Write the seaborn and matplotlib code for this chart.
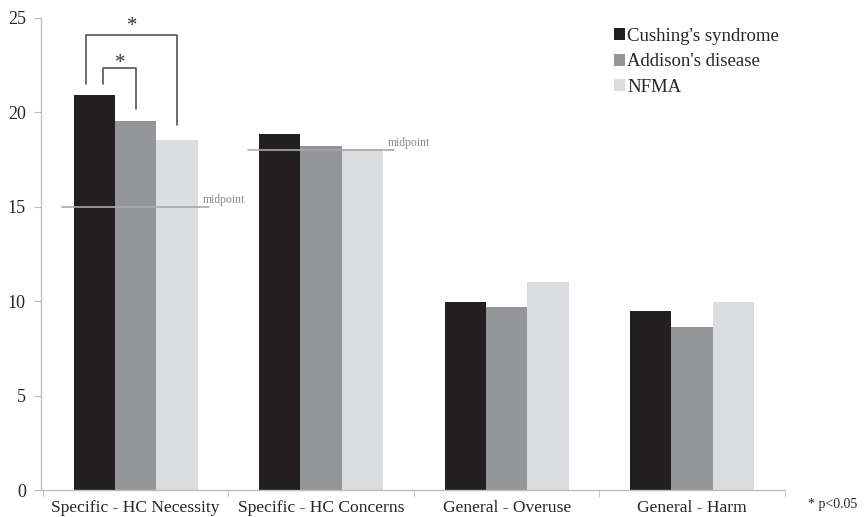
import matplotlib
matplotlib.use("Agg")
import matplotlib.pyplot as plt
import seaborn as sns
import pandas as pd

categories = ["Specific - HC Necessity", "Specific - HC Concerns", "General - Overuse", "General - Harm"]
groups = ["Cushing's syndrome", "Addison's disease", "NFMA"]
cushing = [20.9, 18.86, 9.96, 9.48]
addison = [19.55, 18.22, 9.68, 8.63]
nfma = [18.54, 18.06, 11.02, 9.94]
midpoints = [15, 18]
colors = ["#231f20", "#939598", "#dcdde0"]

rows = []
for g, vals in zip(groups, [cushing, addison, nfma]):
    for c, v in zip(categories, vals):
        rows.append({"cat": c, "group": g, "val": v})
df = pd.DataFrame(rows)

sns.set_style("white")
plt.rcParams["font.family"] = ["Liberation Serif", "DejaVu Serif"]

fig = plt.figure(figsize=(8.64, 5.17), dpi=100)
ax = fig.add_axes([0.0475, 0.0522, 0.861, 0.913])
sns.barplot(data=df, x="cat", y="val", hue="group", palette=colors,
            width=0.67, saturation=1, ax=ax, errorbar=None, linewidth=0)

ax.set_xlim(-0.51, 3.49)
ax.set_ylim(0, 25)
ax.set_yticks([0, 5, 10, 15, 20, 25])
ax.set_xlabel("")
ax.set_ylabel("")
for s in ["top", "right"]:
    ax.spines[s].set_visible(False)
for s in ["left", "bottom"]:
    ax.spines[s].set_color("#bdbdbd")
    ax.spines[s].set_linewidth(1)
ax.tick_params(axis="y", length=5, color="#bdbdbd", labelsize=13, pad=6, left=True)
ax.tick_params(axis="x", which="major", length=0, labelsize=12.6, pad=7.5)
ax.set_xticks([-0.5, 0.5, 1.5, 2.5, 3.5], minor=True)
ax.tick_params(axis="x", which="minor", length=5, color="#bdbdbd", bottom=True)

# midpoint lines
for i, m in enumerate(midpoints):
    ax.plot([i - 0.395, i + 0.395], [m, m], color="#a7a9ac", lw=1.2, zorder=3)
    ax.text(i + 0.36, m + 0.05, "midpoint", color="#8a8a8a", fontsize=8.5, va="bottom", ha="left")

# significance brackets
bc = "#555555"
ax.plot([-0.266, -0.266, 0.223, 0.223], [21.5, 24.1, 24.1, 19.33], color=bc, lw=1.2, clip_on=False)
ax.text(-0.02, 24.05, "*", ha="center", va="bottom", fontsize=15, color="#333333")
ax.plot([-0.175, -0.175, 0.003, 0.003], [21.5, 22.35, 22.35, 20.18], color=bc, lw=1.2, clip_on=False)
ax.text(-0.085, 22.1, "*", ha="center", va="bottom", fontsize=15, color="#333333")

leg = ax.legend(loc="upper left", bbox_to_anchor=(0.748, 1.015), frameon=False, fontsize=13.5,
                handlelength=0.55, handleheight=0.6, handletextpad=0.15, labelspacing=0.45)

fig.text(0.935, 0.025, "* p<0.05", fontsize=10, ha="left", va="center")

fig.savefig("out.png", dpi=100)
